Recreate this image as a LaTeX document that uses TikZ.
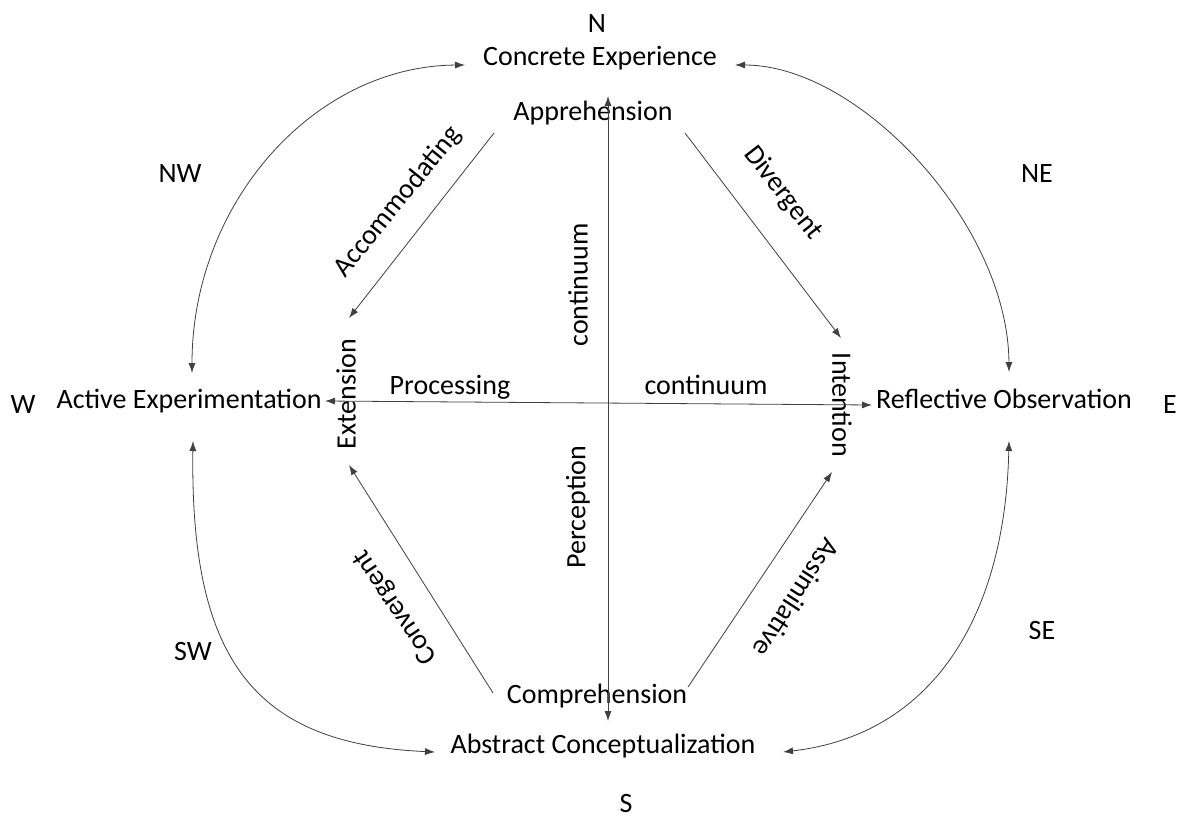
\documentclass[tikz,border=0pt]{standalone}
\usepackage{fontspec}
\setmainfont{Carlito}
\usetikzlibrary{arrows.meta,calc}
\begin{document}
\begin{tikzpicture}[x=1pt,y=-1pt,
  lbl/.style={inner sep=0pt,anchor=base,font=\fontsize{28}{34}\selectfont},
  rlbl/.style={inner sep=0pt,anchor=center,font=\fontsize{28}{34}\selectfont},
  conn/.style={line width=0.8pt,draw=black!75,-{Latex[length=10pt,width=7pt]}},
  dconn/.style={line width=0.8pt,draw=black!75,{Latex[length=10pt,width=7pt]}-{Latex[length=10pt,width=7pt]}}]
\fill[white] (0,0) rectangle (1180,816);
\useasboundingbox (0,0) rectangle (1180,816);
% compass labels
\node[lbl] (n) at (597,33) {N};
\node[lbl] (s) at (626,812) {S};
\node[lbl] (w) at (23,413) {W};
\node[lbl] (e) at (1170,413) {E};
\node[lbl] (nw) at (180,182) {NW};
\node[lbl] (ne) at (1037,182) {NE};
\node[lbl] (sw) at (193,660) {SW};
\node[lbl] (se) at (1042,639) {SE};
% main poles
\node[lbl] (ce) at (600,66) {Concrete Experience};
\node[lbl] (ac) at (603,753) {Abstract Conceptualization};
\node[lbl] (ae) at (189,408) {Active Experimentation};
\node[lbl] (ro) at (1004,408) {Reflective Observation};
% inner terms
\node[lbl] (app) at (593,120) {Apprehension};
\node[lbl] (comp) at (597,703) {Comprehension};
\node[rlbl,rotate=90] (ext) at (346,394) {Extension};
\node[rlbl,rotate=-90] (int) at (842,405) {Intention};
\node[lbl] (proc) at (450,394) {Processing};
\node[lbl] (conth) at (706,394) {continuum};
\node[rlbl,rotate=90] (contv) at (578,285) {continuum};
\node[rlbl,rotate=90] (perc) at (578,507) {Perception};
% diagonal labels
\node[rlbl,rotate=51] (acc) at (398,202) {Accommodating};
\node[rlbl,rotate=-52] (div) at (783,193) {Divergent};
\node[rlbl,rotate=124] (conv) at (396,607) {Convergent};
\node[rlbl,rotate=-123] (assim) at (797,598) {Assimilative};
% axes
\draw[dconn] ($(ce.base)+(8,30)$) -- ($(ac.base)+(5,-32)$);
\draw[dconn] ($(ae.base)+(136,-7)$) -- ($(ro.base)+(-132,-3)$);
% diagonals
\draw[conn] ($(app.base)+(-99,13)$) -- ($(ext.center)+(3,-76)$);
\draw[conn] ($(app.base)+(92,13)$) -- ($(int.center)+(-1,-67)$);
\draw[conn] ($(comp.base)+(-104,-10)$) -- ($(ext.center)+(3,71)$);
\draw[conn] ($(comp.base)+(91,-16)$) -- ($(int.center)+(-10,67)$);
% arcs
\draw[dconn] ($(ce.base)+(-135,-1)$) .. controls +(-151,1) and +(0,-170) .. ($(ae.base)+(3,-35)$);
\draw[dconn] ($(ce.base)+(135,-1)$) .. controls +(125,0) and +(-1,-147) .. ($(ro.base)+(5,-36)$);
\draw[dconn] ($(ae.base)+(4,33)$) .. controls +(-3,220) and +(-180,-8) .. ($(ac.base)+(-168,-1)$);
\draw[dconn] ($(ro.base)+(5,33)$) .. controls +(-4,179) and +(147,-17) .. ($(ac.base)+(180,-1)$);
\end{tikzpicture}
\end{document}
